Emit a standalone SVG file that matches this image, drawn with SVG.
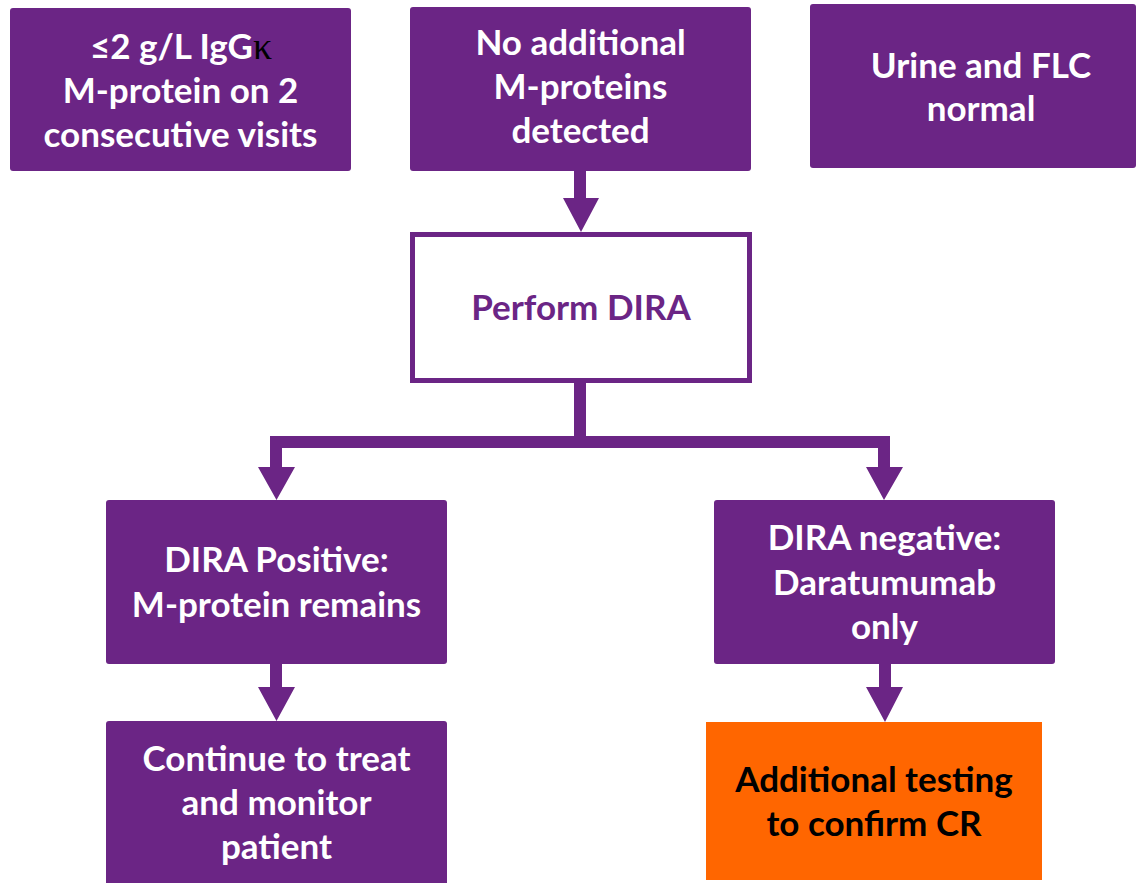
<svg xmlns="http://www.w3.org/2000/svg" width="1138" height="883" viewBox="0 0 1138 883">
<style>
.box{fill:#6B2585;}
.wt{font-family:Lato,"Open Sans","Liberation Sans",sans-serif;font-weight:700;font-size:35px;fill:#ffffff;text-anchor:middle;}
.pt{font-family:Lato,"Open Sans","Liberation Sans",sans-serif;font-weight:700;font-size:35px;fill:#6B2585;text-anchor:middle;}
.bt{font-family:Lato,"Open Sans","Liberation Sans",sans-serif;font-weight:700;font-size:35px;fill:#000000;text-anchor:middle;}
.kap{font-family:"Liberation Serif","DejaVu Serif",serif;font-weight:400;font-size:38px;fill:#000000;}
.conn{fill:#6B2585;}
</style>
<rect width="1138" height="883" fill="#ffffff"/>
<g id="connectors">
<path class="conn" d="M574,170 H586 V198 H599 L581,232 L563,198 H574 Z"/>
<path class="conn" d="M574,383 H586 V436 H890 V467 H903 L884,500 L866,467 H878 V448 H282 V467 H295 L276.5,500 L258,467 H270 V436 H574 Z"/>
<path class="conn" d="M270,663 H282 V687 H295 L276.5,721 L258,687 H270 Z"/>
<path class="conn" d="M879,663 H891 V687 H903 L885,722 L866,687 H879 Z"/>
</g>
<g id="node-igg">
<rect class="box" x="10" y="8" width="341" height="163" rx="3"/>
<text class="wt" x="181" y="59">≤2 g/L IgG<tspan class="kap">κ</tspan></text>
<text class="wt" x="180.5" y="103">M-protein on 2</text>
<text class="wt" x="180.5" y="147">consecutive visits</text>
</g>
<g id="node-noadditional">
<rect class="box" x="410" y="7" width="341" height="164" rx="3"/>
<text class="wt" x="580.5" y="55">No additional</text>
<text class="wt" x="580.5" y="99">M-proteins</text>
<text class="wt" x="580.5" y="143">detected</text>
</g>
<g id="node-urine">
<rect class="box" x="810" y="4" width="326" height="164" rx="3"/>
<text class="wt" x="981" y="78">Urine and FLC</text>
<text class="wt" x="981" y="121">normal</text>
</g>
<g id="node-perform">
<rect x="412.5" y="234.5" width="337" height="146" fill="#ffffff" stroke="#6B2585" stroke-width="5"/>
<text class="pt" x="581" y="320">Perform DIRA</text>
</g>
<g id="node-positive">
<rect class="box" x="106" y="500" width="341" height="164" rx="3"/>
<text class="wt" x="276.5" y="572">DIRA Positive:</text>
<text class="wt" x="276.5" y="617">M-protein remains</text>
</g>
<g id="node-negative">
<rect class="box" x="714" y="500" width="341" height="164" rx="3"/>
<text class="wt" x="884.5" y="550">DIRA negative:</text>
<text class="wt" x="884.5" y="595">Daratumumab</text>
<text class="wt" x="884.5" y="639">only</text>
</g>
<g id="node-continue">
<rect class="box" x="106" y="721" width="341" height="170" rx="3"/>
<text class="wt" x="276.5" y="771">Continue to treat</text>
<text class="wt" x="276.5" y="815">and monitor</text>
<text class="wt" x="276.5" y="859">patient</text>
</g>
<g id="node-additional">
<rect x="706" y="722" width="336" height="158" fill="#FF6600"/>
<text class="bt" x="874" y="792">Additional testing</text>
<text class="bt" x="874" y="836">to confirm CR</text>
</g>
</svg>
